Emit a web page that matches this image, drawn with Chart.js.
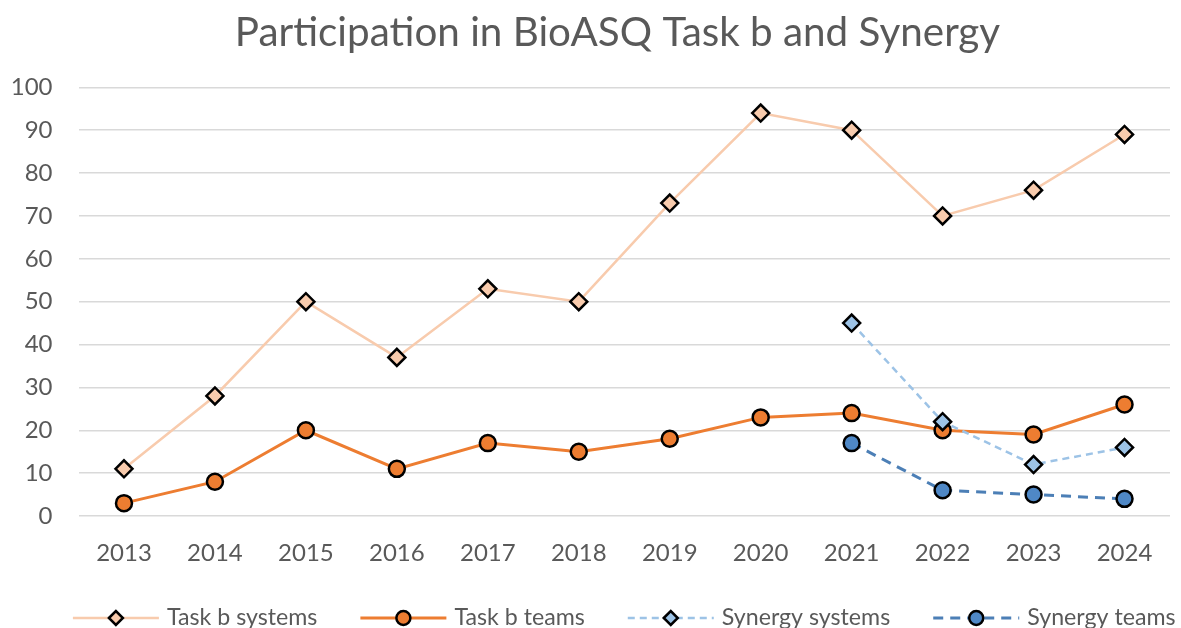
<!DOCTYPE html>
<html>
<head>
<meta charset="utf-8">
<script src="https://cdn.jsdelivr.net/npm/chart.js"></script>
<style>
  html, body { margin: 0; padding: 0; background: #ffffff; }
  #wrap { width: 1181px; height: 628px; }
</style>
</head>
<body>
<div id="wrap"><canvas id="c" width="1181" height="628"></canvas></div>
<script>
const titleText = 'Participation in BioASQ Task b and Synergy';
const years = ['2013','2014','2015','2016','2017','2018','2019','2020','2021','2022','2023','2024'];
const taskBSystems = [11, 28, 50, 37, 53, 50, 73, 94, 90, 70, 76, 89];
const taskBTeams = [3, 8, 20, 11, 17, 15, 18, 23, 24, 20, 19, 26];
const synergySystems = [null, null, null, null, null, null, null, null, 45, 22, 12, 16];
const synergyTeams = [null, null, null, null, null, null, null, null, 17, 6, 5, 4];
const yTicks = [0, 10, 20, 30, 40, 50, 60, 70, 80, 90, 100];

const FONT = 'Lato';
const TXT = '#595959';

const customTitle = {
  id: 'customTitle',
  afterDraw(chart) {
    const ctx = chart.ctx;
    ctx.save();
    ctx.font = '40.4px ' + FONT;
    ctx.fillStyle = TXT;
    ctx.textAlign = 'center';
    ctx.textBaseline = 'alphabetic';
    ctx.fillText(titleText, 617.5, 45.5);
    ctx.restore();
  }
};

const customLegend = {
  id: 'customLegend',
  afterDraw(chart) {
    const ctx = chart.ctx;
    ctx.save();
    ctx.font = '23.2px ' + FONT;
    const sample = 86, gapT = 8, gapI = 43;
    const items = chart.data.datasets.map(ds => ({ ds, w: ctx.measureText(ds.label).width }));
    const total = items.reduce((s, it) => s + sample + gapT + it.w, 0) + gapI * (items.length - 1);
    const cx = (chart.chartArea.left + chart.chartArea.right) / 2;
    let x = cx - total / 2;
    const y = 618;
    items.forEach(it => {
      const ds = it.ds;
      ctx.beginPath();
      ctx.strokeStyle = ds.borderColor;
      ctx.lineWidth = ds.borderWidth;
      ctx.setLineDash(ds.borderDash || []);
      ctx.moveTo(x, y);
      ctx.lineTo(x + sample, y);
      ctx.stroke();
      ctx.setLineDash([]);
      const mx = x + sample / 2;
      ctx.beginPath();
      if (ds.pointStyle === 'rectRot') {
        const r = 7;
        ctx.moveTo(mx - r, y); ctx.lineTo(mx, y - r); ctx.lineTo(mx + r, y); ctx.lineTo(mx, y + r); ctx.closePath();
      } else {
        ctx.arc(mx, y, 7, 0, Math.PI * 2);
      }
      ctx.fillStyle = ds.pointBackgroundColor;
      ctx.fill();
      ctx.lineWidth = 2.5;
      ctx.strokeStyle = '#000000';
      ctx.stroke();
      ctx.fillStyle = TXT;
      ctx.textBaseline = 'middle';
      ctx.textAlign = 'left';
      ctx.fillText(ds.label, x + sample + gapT, y);
      x += sample + gapT + it.w + gapI;
    });
    ctx.restore();
  }
};

new Chart(document.getElementById('c'), {
  type: 'line',
  data: {
    labels: years,
    datasets: [
      {
        label: 'Task b systems', data: taskBSystems,
        borderColor: '#f8cbad', borderWidth: 2.5,
        pointStyle: 'rectRot', pointRadius: 8.5, pointBorderWidth: 2.5,
        pointBackgroundColor: '#f8cbad', pointBorderColor: '#000000', order: 4
      },
      {
        label: 'Task b teams', data: taskBTeams,
        borderColor: '#ed7d31', borderWidth: 3,
        pointStyle: 'circle', pointRadius: 8, pointBorderWidth: 2.5,
        pointBackgroundColor: '#ed7d31', pointBorderColor: '#000000', order: 3
      },
      {
        label: 'Synergy systems', data: synergySystems,
        borderColor: '#9dc3e6', borderWidth: 2.5, borderDash: [7, 5],
        pointStyle: 'rectRot', pointRadius: 8.5, pointBorderWidth: 2.5,
        pointBackgroundColor: '#9dc3e6', pointBorderColor: '#000000', order: 2
      },
      {
        label: 'Synergy teams', data: synergyTeams,
        borderColor: '#4c7fb6', borderWidth: 3, borderDash: [10, 7],
        pointStyle: 'circle', pointRadius: 8, pointBorderWidth: 2.5,
        pointBackgroundColor: '#4f88c6', pointBorderColor: '#000000', order: 1
      }
    ]
  },
  options: {
    responsive: false,
    animation: false,
    layout: { padding: { left: 0, right: 10, top: 87.3, bottom: 63 } },
    elements: { line: { tension: 0 } },
    plugins: {
      legend: { display: false },
      tooltip: { enabled: false },
      title: { display: false }
    },
    scales: {
      x: {
        offset: true,
        grid: { display: false, drawTicks: false, offset: true },
        border: { display: false },
        ticks: { color: TXT, font: { family: FONT, size: 24 }, padding: 23, maxRotation: 0 },
        afterFit(scale) { scale.height = 49; }
      },
      y: {
        min: 0, max: 100,
        afterBuildTicks(scale) { scale.ticks = yTicks.map(v => ({ value: v })); },
        grid: { color: '#d9d9d9', lineWidth: 1.5, drawTicks: false },
        border: { display: false },
        ticks: { color: TXT, font: { family: FONT, size: 24 }, padding: 26 },
        afterFit(scale) { scale.width = 78.5; }
      }
    }
  },
  plugins: [customTitle, customLegend]
});
</script>
</body>
</html>
